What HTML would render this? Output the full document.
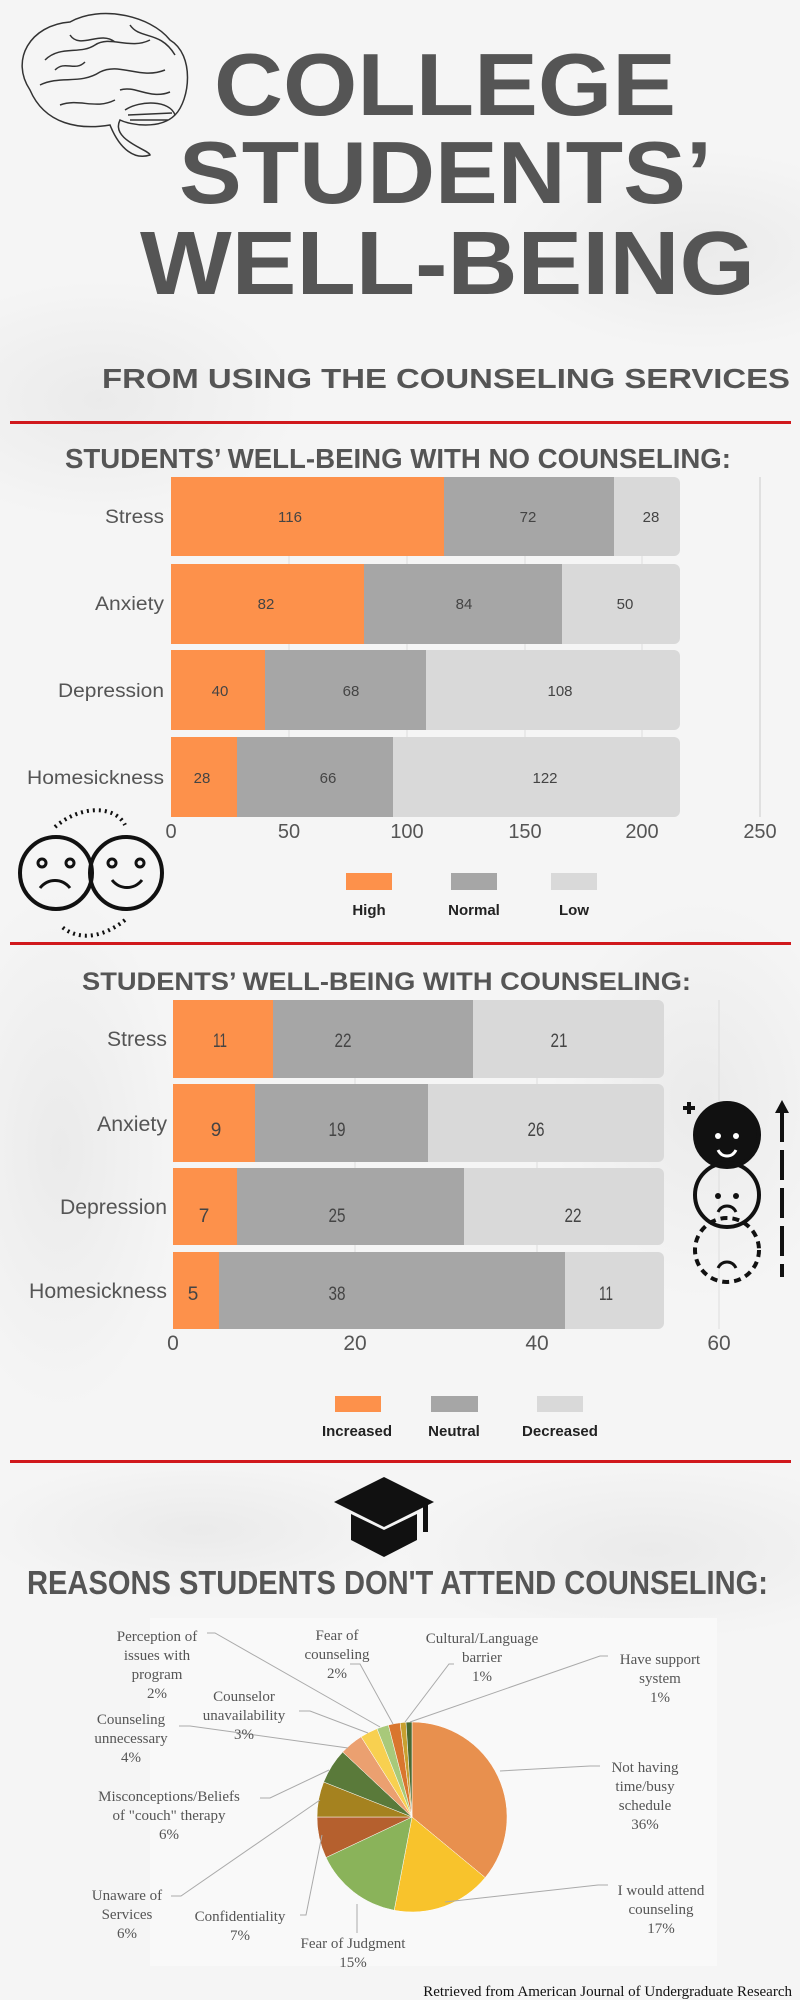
<!DOCTYPE html>
<html><head><meta charset="utf-8"><style>
html,body{margin:0;padding:0;width:800px;height:2000px;overflow:hidden;}
svg{display:block}
.t{font-family:"Liberation Sans",sans-serif;font-weight:bold;fill:#555}
.c{font-family:"Liberation Sans",sans-serif;fill:#555}
.v{font-family:"Liberation Sans",sans-serif;fill:#444;text-anchor:middle}
.s{font-family:"Liberation Serif",serif;fill:#555;text-anchor:middle;font-size:15px}
</style></head><body>
<svg width="800" height="2000" viewBox="0 0 800 2000" xmlns="http://www.w3.org/2000/svg">
<defs>
<radialGradient id="m1" cx="0.5" cy="0.5" r="0.5"><stop offset="0" stop-color="#e0e0e0" stop-opacity="0.5"/><stop offset="1" stop-color="#e0e0e0" stop-opacity="0"/></radialGradient>
</defs>
<rect width="800" height="2000" fill="#f5f5f5"/>
<ellipse cx="100" cy="400" rx="200" ry="120" fill="url(#m1)"/>
<ellipse cx="700" cy="250" rx="200" ry="100" fill="url(#m1)"/>
<ellipse cx="60" cy="1150" rx="120" ry="260" fill="url(#m1)"/>
<ellipse cx="650" cy="1550" rx="250" ry="90" fill="url(#m1)"/>
<ellipse cx="200" cy="1530" rx="220" ry="70" fill="url(#m1)"/>
<ellipse cx="700" cy="1100" rx="150" ry="200" fill="url(#m1)"/>

<!-- brain -->
<g fill="none" stroke="#333" stroke-width="1.5">
<path d="M30 90 C10 60 30 25 70 22 C100 5 150 15 170 40 C195 55 190 100 175 115 C160 130 130 125 120 120 C110 140 150 150 150 155 C135 160 120 150 110 125 C80 130 45 125 30 90 Z" fill="#f5f5f5"/>
<path d="M45 60 C60 45 80 55 95 45 C110 35 130 50 150 40 M40 85 C60 75 80 85 100 72 C120 62 140 80 165 70 M60 105 C80 98 95 110 115 100 M70 35 C80 50 100 30 115 42 M130 25 C140 40 160 30 175 55 M55 70 C65 60 75 72 85 62 M120 90 C135 85 150 100 170 92"/>
<path d="M125 110 C140 100 170 100 175 115 M128 115 L172 113 M130 120 L168 120"/>
</g>

<!-- titles -->
<text class="t" x="214" y="115" font-size="88" textLength="462" lengthAdjust="spacingAndGlyphs">COLLEGE</text>
<text class="t" x="179" y="203" font-size="88" textLength="533" lengthAdjust="spacingAndGlyphs">STUDENTS’</text>
<text class="t" x="140" y="294" font-size="90" textLength="615" lengthAdjust="spacingAndGlyphs">WELL-BEING</text>
<text class="t" x="102" y="388" font-size="28" textLength="688" lengthAdjust="spacingAndGlyphs">FROM USING THE COUNSELING SERVICES</text>
<rect x="10" y="421" width="781" height="3" fill="#d0181c"/>
<text class="t" x="65" y="468" font-size="28" textLength="666" lengthAdjust="spacingAndGlyphs">STUDENTS’ WELL-BEING WITH NO COUNSELING:</text>

<!-- chart 1 -->
<g stroke="#ddd" stroke-width="1">
<line x1="289" y1="477" x2="289" y2="817"/><line x1="407" y1="477" x2="407" y2="817"/><line x1="525" y1="477" x2="525" y2="817"/><line x1="642" y1="477" x2="642" y2="817"/><line x1="760" y1="477" x2="760" y2="817" stroke="#ccc"/>
</g>
<g>
<rect x="171" y="477" width="509" height="79" rx="6" fill="#d9d9d9"/>
<rect x="171" y="477" width="273" height="79" fill="#fd914b"/><rect x="444" y="477" width="170" height="79" fill="#a6a6a6"/>
<rect x="171" y="564" width="509" height="80" rx="6" fill="#d9d9d9"/>
<rect x="171" y="564" width="193" height="80" fill="#fd914b"/><rect x="364" y="564" width="198" height="80" fill="#a6a6a6"/>
<rect x="171" y="650" width="509" height="80" rx="6" fill="#d9d9d9"/>
<rect x="171" y="650" width="94" height="80" fill="#fd914b"/><rect x="265" y="650" width="161" height="80" fill="#a6a6a6"/>
<rect x="171" y="737" width="509" height="80" rx="6" fill="#d9d9d9"/>
<rect x="171" y="737" width="66" height="80" fill="#fd914b"/><rect x="237" y="737" width="156" height="80" fill="#a6a6a6"/>
</g>
<g class="v" font-size="15">
<text x="290" y="522">116</text><text x="528" y="522">72</text><text x="651" y="522">28</text>
<text x="266" y="609">82</text><text x="464" y="609">84</text><text x="625" y="609">50</text>
<text x="220" y="696">40</text><text x="351" y="696">68</text><text x="560" y="696">108</text>
<text x="202" y="783">28</text><text x="328" y="783">66</text><text x="545" y="783">122</text>
</g>
<g class="c" font-size="19" text-anchor="end">
<text x="164" y="523" textLength="59" lengthAdjust="spacingAndGlyphs">Stress</text>
<text x="164" y="610" textLength="69" lengthAdjust="spacingAndGlyphs">Anxiety</text>
<text x="164" y="697" textLength="106" lengthAdjust="spacingAndGlyphs">Depression</text>
<text x="164" y="784" textLength="137" lengthAdjust="spacingAndGlyphs">Homesickness</text>
</g>
<g class="c" font-size="20" text-anchor="middle" fill="#666">
<text x="171" y="838">0</text><text x="289" y="838">50</text><text x="407" y="838">100</text><text x="525" y="838">150</text><text x="642" y="838">200</text><text x="760" y="838">250</text>
</g>
<rect x="346" y="873" width="46" height="17" fill="#fd914b"/>
<rect x="451" y="873" width="46" height="17" fill="#a6a6a6"/>
<rect x="551" y="873" width="46" height="17" fill="#d9d9d9"/>
<g class="t" font-size="15" text-anchor="middle" style="fill:#222">
<text x="369" y="915">High</text><text x="474" y="915">Normal</text><text x="574" y="915">Low</text>
</g>
<!-- faces -->
<g fill="none" stroke="#111" stroke-width="4">
<circle cx="56" cy="873" r="36"/><circle cx="126" cy="873" r="36"/>
<path d="M55 827 C80 805 115 805 125 825" stroke-dasharray="2 4"/>
<path d="M125 920 C100 940 75 940 60 925" stroke-dasharray="2 4"/>
<path d="M40 888 C48 878 62 878 70 888" stroke-width="3"/>
<path d="M112 880 C120 890 134 890 142 880" stroke-width="3"/>
<circle cx="42" cy="863" r="4" stroke-width="3"/><circle cx="70" cy="863" r="4" stroke-width="3"/>
<circle cx="112" cy="863" r="4" stroke-width="3"/><circle cx="140" cy="863" r="4" stroke-width="3"/>
</g>
<rect x="10" y="942" width="781" height="3" fill="#d0181c"/>

<!-- chart 2 -->
<text class="t" x="82" y="990" font-size="25" textLength="609" lengthAdjust="spacingAndGlyphs">STUDENTS’ WELL-BEING WITH COUNSELING:</text>
<g stroke="#ddd"><line x1="355" y1="1000" x2="355" y2="1329"/><line x1="537" y1="1000" x2="537" y2="1329"/><line x1="719" y1="1000" x2="719" y2="1329"/></g>
<rect x="173" y="1000" width="491" height="78" rx="6" fill="#d9d9d9"/>
<rect x="173" y="1000" width="100" height="78" fill="#fd914b"/><rect x="273" y="1000" width="200" height="78" fill="#a6a6a6"/>
<rect x="173" y="1084" width="491" height="78" rx="6" fill="#d9d9d9"/>
<rect x="173" y="1084" width="82" height="78" fill="#fd914b"/><rect x="255" y="1084" width="173" height="78" fill="#a6a6a6"/>
<rect x="173" y="1168" width="491" height="77" rx="6" fill="#d9d9d9"/>
<rect x="173" y="1168" width="64" height="77" fill="#fd914b"/><rect x="237" y="1168" width="227" height="77" fill="#a6a6a6"/>
<rect x="173" y="1252" width="491" height="77" rx="6" fill="#d9d9d9"/>
<rect x="173" y="1252" width="46" height="77" fill="#fd914b"/><rect x="219" y="1252" width="346" height="77" fill="#a6a6a6"/>
<g class="v" font-size="19">
<text x="220" y="1047" textLength="14" lengthAdjust="spacingAndGlyphs">11</text><text x="343" y="1047" textLength="17" lengthAdjust="spacingAndGlyphs">22</text><text x="559" y="1047" textLength="17" lengthAdjust="spacingAndGlyphs">21</text>
<text x="216" y="1136">9</text><text x="337" y="1136" textLength="17" lengthAdjust="spacingAndGlyphs">19</text><text x="536" y="1136" textLength="17" lengthAdjust="spacingAndGlyphs">26</text>
<text x="204" y="1222">7</text><text x="337" y="1222" textLength="17" lengthAdjust="spacingAndGlyphs">25</text><text x="573" y="1222" textLength="17" lengthAdjust="spacingAndGlyphs">22</text>
<text x="193" y="1300">5</text><text x="337" y="1300" textLength="17" lengthAdjust="spacingAndGlyphs">38</text><text x="606" y="1300" textLength="14" lengthAdjust="spacingAndGlyphs">11</text>
</g>
<g class="c" font-size="21" text-anchor="end">
<text x="167" y="1046" textLength="60" lengthAdjust="spacingAndGlyphs">Stress</text>
<text x="167" y="1131" textLength="70" lengthAdjust="spacingAndGlyphs">Anxiety</text>
<text x="167" y="1214" textLength="107" lengthAdjust="spacingAndGlyphs">Depression</text>
<text x="167" y="1298" textLength="138" lengthAdjust="spacingAndGlyphs">Homesickness</text>
</g>
<g class="c" font-size="21" text-anchor="middle" fill="#666">
<text x="173" y="1350">0</text><text x="355" y="1350">20</text><text x="537" y="1350">40</text><text x="719" y="1350">60</text>
</g>
<rect x="335" y="1396" width="46" height="16" fill="#fd914b"/>
<rect x="431" y="1396" width="47" height="16" fill="#a6a6a6"/>
<rect x="537" y="1396" width="46" height="16" fill="#d9d9d9"/>
<g class="t" font-size="15" text-anchor="middle" style="fill:#222">
<text x="357" y="1436">Increased</text><text x="454" y="1436">Neutral</text><text x="560" y="1436">Decreased</text>
</g>
<!-- face stack -->
<g stroke="#111" stroke-width="4">
<circle cx="727" cy="1135" r="32" fill="#111"/>
<circle cx="727" cy="1195" r="32" fill="none"/>
<circle cx="727" cy="1250" r="32" fill="none" stroke-dasharray="7 5"/>
<line x1="782" y1="1112" x2="782" y2="1277" stroke-dasharray="30 8"/>
<path d="M683 1108 h12 M689 1102 v12"/>
<path d="M718 1150 C722 1158 732 1158 736 1150" stroke="#fff" stroke-width="3" fill="none"/>
<path d="M718 1212 C722 1204 732 1204 736 1212" stroke-width="3" fill="none"/>
<path d="M718 1268 C722 1260 732 1260 736 1268" stroke-width="3" fill="none"/>
</g>
<circle cx="718" cy="1136" r="3" fill="#fff"/><circle cx="736" cy="1136" r="3" fill="#fff"/>
<circle cx="718" cy="1196" r="3" fill="#111"/><circle cx="736" cy="1196" r="3" fill="#111"/>
<polygon points="782,1100 775,1113 789,1113" fill="#111"/>
<rect x="10" y="1460" width="781" height="3" fill="#d0181c"/>

<!-- cap -->
<polygon points="384,1477 434,1502 384,1527 334,1502" fill="#111"/>
<polygon points="351,1514 384,1530 417,1514 417,1540 384,1557 351,1540" fill="#111"/>
<rect x="423" y="1502" width="5" height="30" fill="#111"/>
<text class="t" x="27" y="1594" font-size="33" textLength="741" lengthAdjust="spacingAndGlyphs">REASONS STUDENTS DON'T ATTEND COUNSELING:</text>

<!-- pie panel -->
<rect x="150" y="1618" width="567" height="348" fill="#f9f9f9"/>
<g stroke="#fff" stroke-width="0.5">
<path d="M412 1817 L412 1722 A95 95 0 0 1 485.2 1877.6 Z" fill="#e8904e"/>
<path d="M412 1817 L485.2 1877.6 A95 95 0 0 1 394.2 1910.3 Z" fill="#f8c32c"/>
<path d="M412 1817 L394.2 1910.3 A95 95 0 0 1 326 1857.5 Z" fill="#8ab35a"/>
<path d="M412 1817 L326 1857.5 A95 95 0 0 1 317 1817 Z" fill="#b5602e"/>
<path d="M412 1817 L317 1817 A95 95 0 0 1 323.7 1782 Z" fill="#a5821f"/>
<path d="M412 1817 L323.7 1782 A95 95 0 0 1 342.7 1752 Z" fill="#5a7a3a"/>
<path d="M412 1817 L342.7 1752 A95 95 0 0 1 361.1 1736.8 Z" fill="#eba070"/>
<path d="M412 1817 L361.1 1736.8 A95 95 0 0 1 377 1728.7 Z" fill="#f8d050"/>
<path d="M412 1817 L377 1728.7 A95 95 0 0 1 388.4 1725 Z" fill="#a8c97a"/>
<path d="M412 1817 L388.4 1725 A95 95 0 0 1 400.1 1722.8 Z" fill="#d9762e"/>
<path d="M412 1817 L400.1 1722.8 A95 95 0 0 1 406 1722.2 Z" fill="#c8a030"/>
<path d="M412 1817 L406 1722.2 A95 95 0 0 1 412 1722 Z" fill="#4a6a30"/>
</g>
<g stroke="#aaa" stroke-width="1" fill="none">
<polyline points="207,1633 215,1633 380,1727"/>
<polyline points="350,1664 360,1664 393,1724"/>
<polyline points="454,1664 449,1664 405,1722"/>
<polyline points="608,1656 600,1656 410,1722"/>
<polyline points="299,1711 310,1711 368,1733"/>
<polyline points="179,1726 190,1726 348,1748"/>
<polyline points="600,1766 590,1766 500,1771"/>
<polyline points="260,1798 270,1798 329,1770"/>
<polyline points="608,1885 598,1885 445,1902"/>
<polyline points="171,1896 181,1896 320,1800"/>
<polyline points="300,1915 306,1915 322,1835"/>
<line x1="357" y1="1904" x2="357" y2="1933"/>
</g>
<g class="s">
<text x="157" y="1641">Perception of</text><text x="157" y="1660">issues with</text><text x="157" y="1679">program</text><text x="157" y="1698">2%</text>
<text x="337" y="1640">Fear of</text><text x="337" y="1659">counseling</text><text x="337" y="1678">2%</text>
<text x="482" y="1643">Cultural/Language</text><text x="482" y="1662">barrier</text><text x="482" y="1681">1%</text>
<text x="660" y="1664">Have support</text><text x="660" y="1683">system</text><text x="660" y="1702">1%</text>
<text x="244" y="1701">Counselor</text><text x="244" y="1720">unavailability</text><text x="244" y="1739">3%</text>
<text x="131" y="1724">Counseling</text><text x="131" y="1743">unnecessary</text><text x="131" y="1762">4%</text>
<text x="645" y="1772">Not having</text><text x="645" y="1791">time/busy</text><text x="645" y="1810">schedule</text><text x="645" y="1829">36%</text>
<text x="169" y="1801">Misconceptions/Beliefs</text><text x="169" y="1820">of "couch" therapy</text><text x="169" y="1839">6%</text>
<text x="661" y="1895">I would attend</text><text x="661" y="1914">counseling</text><text x="661" y="1933">17%</text>
<text x="127" y="1900">Unaware of</text><text x="127" y="1919">Services</text><text x="127" y="1938">6%</text>
<text x="240" y="1921">Confidentiality</text><text x="240" y="1940">7%</text>
<text x="353" y="1948">Fear of Judgment</text><text x="353" y="1967">15%</text>
</g>
<text x="792" y="1996" font-family="Liberation Serif, serif" font-size="15" fill="#111" text-anchor="end">Retrieved from American Journal of Undergraduate Research</text>
</svg>
</body></html>
